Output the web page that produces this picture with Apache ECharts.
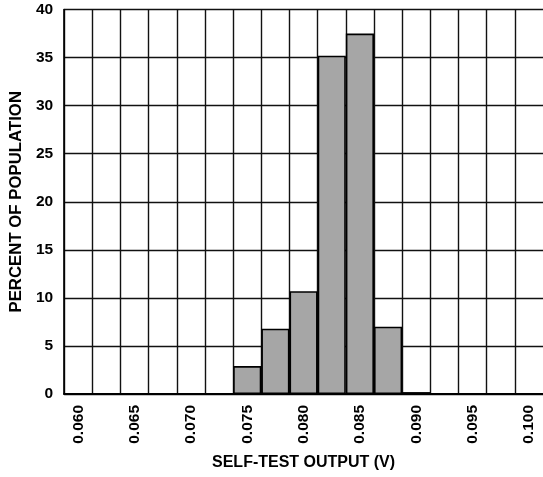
<!DOCTYPE html>
<html>
<head>
<meta charset="utf-8">
<script src="https://cdn.jsdelivr.net/npm/echarts@6/dist/echarts.min.js"></script>
<style>html,body{margin:0;padding:0;background:#fff;}#c{width:543px;height:477px;}</style>
</head>
<body>
<div id="c"></div>
<script>
const categories = ['0.060','0.0625','0.065','0.0675','0.070','0.0725','0.075','0.0775','0.080','0.0825','0.085','0.0875','0.090','0.0925','0.095','0.0975','0.100'];
const percent = [0,0,0,0,0,0,2.9,6.8,10.7,35.2,37.5,7.0,0.2,0,0,0,0];
const yTicks = {min:0, max:40, interval:5};
const xTitle = 'SELF-TEST OUTPUT (V)';
const yTitle = 'PERCENT OF POPULATION';

const font = '"Liberation Sans", Arial, sans-serif';
const chart = echarts.init(document.getElementById('c'));
chart.setOption({
  animation:false,
  grid:{left:63, right:0, top:9.5, bottom:83, containLabel:false},
  xAxis:{
    type:'category', data:categories, boundaryGap:true,
    name:xTitle, nameLocation:'middle', nameGap:61,
    nameTextStyle:{fontFamily:font, fontWeight:'bold', fontSize:16, color:'#000'},
    axisLine:{show:true, lineStyle:{color:'#000', width:2.2}},
    axisTick:{show:false},
    axisLabel:{interval:1, rotate:90, margin:11, fontFamily:font, fontWeight:'bold', fontSize:15.5, color:'#000'},
    splitLine:{show:true, interval:0, lineStyle:{color:'#111', width:1.4}}
  },
  yAxis:{
    type:'value', min:yTicks.min, max:yTicks.max, interval:yTicks.interval,
    name:yTitle, nameLocation:'middle', nameGap:37, nameRotate:90,
    nameTextStyle:{fontFamily:font, fontWeight:'bold', fontSize:16.8, color:'#000'},
    axisLine:{show:true, lineStyle:{color:'#000', width:1.6}},
    axisTick:{show:false},
    axisLabel:{margin:11, fontFamily:font, fontWeight:'bold', fontSize:15.5, color:'#000'},
    splitLine:{show:true, lineStyle:{color:'#111', width:1.4}}
  },
  series:[{
    type:'bar', data:percent, barWidth:'100%', barCategoryGap:'0%',
    itemStyle:{color:'#a6a6a6', borderColor:'#000', borderWidth:1.6}
  }]
});
</script>
</body>
</html>
